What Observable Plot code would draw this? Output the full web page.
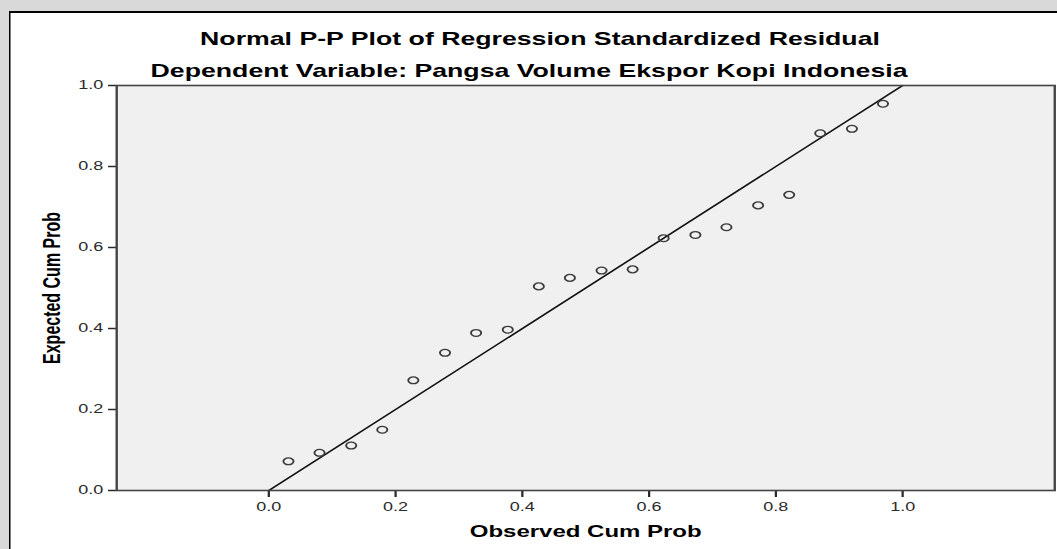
<!DOCTYPE html>
<html>
<head>
<meta charset="utf-8">
<script src="https://cdn.jsdelivr.net/npm/d3@7"></script>
<script src="https://cdn.jsdelivr.net/npm/@observablehq/plot@0.6"></script>
<style>
  html, body { margin: 0; padding: 0; background: #d9d9d9; overflow: hidden; width: 1057px; height: 549px; }
  #wrap { position: absolute; left: 0; top: 0; width: 705px; height: 549px; transform: scaleX(1.5); transform-origin: 0 0; overflow: hidden; font-family: "Liberation Sans", Arial, sans-serif; }
  #box { position: absolute; left: 5.6px; top: 11px; width: 800px; height: 600px; background: #fff; border-left: 1.4px solid #000; border-top: 2px solid #000; }
  .ttl { position: absolute; left: 0; text-align: center; white-space: nowrap; font-weight: bold; font-size: 17.8px; line-height: 1; color: #000; }
  #chart { position: absolute; left: 0; top: 0; }
</style>
</head>
<body>
<div id="wrap">
  <div id="box"></div>
  <div class="ttl" id="t1" style="top:31px; width:720px;"></div>
  <div class="ttl" id="t2" style="top:62.7px; width:705.4px;"></div>
  <div id="chart"></div>
</div>
<script>
const titleText = "Normal P-P Plot of Regression Standardized Residual";
const subtitleText = "Dependent Variable: Pangsa Volume Ekspor Kopi Indonesia";
const xLabel = "Observed Cum Prob";
const yLabel = "Expected Cum Prob";

const observedCumProb = [0.031, 0.080, 0.130, 0.179, 0.228, 0.278, 0.327, 0.377, 0.426, 0.475,
                         0.525, 0.574, 0.623, 0.673, 0.722, 0.772, 0.821, 0.870, 0.920, 0.969];
const expectedCumProb = [0.072, 0.093, 0.111, 0.150, 0.272, 0.340, 0.389, 0.397, 0.504, 0.525,
                         0.543, 0.546, 0.623, 0.631, 0.650, 0.704, 0.730, 0.882, 0.893, 0.955];

const tickValues = [0.0, 0.2, 0.4, 0.6, 0.8, 1.0];
const tickLabels = ["0.0", "0.2", "0.4", "0.6", "0.8", "1.0"];

const refLineX = [0, 1];
const refLineY = [0, 1];

document.getElementById("t1").textContent = titleText;
document.getElementById("t2").textContent = subtitleText;

const points = observedCumProb.map((x, i) => ({x, y: expectedCumProb[i]}));
const refLine = refLineX.map((x, i) => ({x, y: refLineY[i]}));
const fmt = d => tickLabels[tickValues.findIndex(t => Math.abs(t - d) < 1e-9)];

const chart = Plot.plot({
  width: 705,
  height: 549,
  marginLeft: 77.3,
  marginRight: 2.33,
  marginTop: 85,
  marginBottom: 59,
  style: {background: "transparent", fontFamily: "'Liberation Sans', Arial, sans-serif", fontSize: "12px", color: "#2a2a2a"},
  x: {domain: [-0.24, 1.24]},
  y: {domain: [0, 1]},
  marks: [
    Plot.frame({fill: "#f0f0f0"}),
    Plot.axisX({ticks: tickValues, tickFormat: fmt, tickSize: 7, tickPadding: 4.6, strokeWidth: 1.5, label: null}),
    Plot.axisY({ticks: tickValues, tickFormat: fmt, tickSize: 5.3, tickPadding: 3.6, strokeWidth: 1.5, label: null}),
    Plot.line(refLine, {x: "x", y: "y", stroke: "#111", strokeWidth: 1.4}),
    Plot.dot(points, {x: "x", y: "y", r: 3.4, stroke: "#3a3a3a", strokeWidth: 1.25, fill: "none"}),
    Plot.frame({stroke: "#444", strokeWidth: 1.6}),
    Plot.text([xLabel], {frameAnchor: "bottom", lineAnchor: "middle", textAnchor: "middle", dy: 40.9, text: d => d, fontWeight: "bold", fontSize: 16, fill: "#000"}),
    Plot.text([yLabel], {frameAnchor: "left", lineAnchor: "middle", textAnchor: "middle", dx: -42.8, rotate: -90, text: d => d, fontWeight: "bold", fontSize: 16, fill: "#000"})
  ]
});
document.getElementById("chart").appendChild(chart);
</script>
</body>
</html>
